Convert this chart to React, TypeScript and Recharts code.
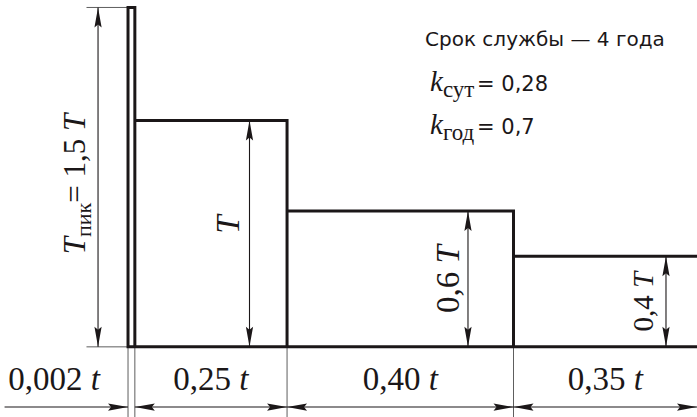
import React from 'react';
import { ComposedChart, Line, XAxis, YAxis, ReferenceLine, ReferenceDot } from 'recharts';

// Duty cycle: share of the cycle time and load level (in units of rated torque T)
const intervalShares = ['0,002', '0,25', '0,40', '0,35'];
const loadLevels = [1.5, 1, 0.6, 0.4];
const levelNames = ['1,5', '', '0,6', '0,4'];
// Interval boundaries on the schematic (not to scale) time axis, 0..100
const intervalEdges = [0, 1.2, 27.95, 67.75, 100];

const serviceLife = 'Срок службы — 4 года';
const kDaily = '0,28';
const kYearly = '0,7';

const ink = '#1b1718';
const thin = '#5e5e5e';
const serif = '"Liberation Serif", "Times New Roman", serif';
const sans = '"DejaVu Sans", Verdana, sans-serif';

// Closed outline of the load diagram: one rectangle per interval on the baseline
type Pt = { t: number; v: number | null };
const outline: Pt[] = [{ t: intervalEdges[0], v: 0 }];
loadLevels.forEach((lv, i) => {
  outline.push({ t: intervalEdges[i], v: lv });
  outline.push({ t: intervalEdges[i + 1], v: lv });
  if (i < loadLevels.length - 1) outline.push({ t: intervalEdges[i + 1], v: 0 });
});
outline.push({ t: intervalEdges[intervalEdges.length - 1], v: null });
outline.push({ t: intervalEdges[intervalEdges.length - 1], v: 0 });
outline.push({ t: intervalEdges[0], v: 0 });

const X_DOMAIN: [number, number] = [-22.5, 100];
const Y_DOMAIN: [number, number] = [-0.31, 1.533];
const DIM_ROW = -0.266;
const LABEL_ROW = -0.19;

// Dimension line with filled arrowheads at the chosen ends
const dimShape = (startArrow: boolean, endArrow: boolean) => (p: any) => {
  const { x1, y1, x2, y2 } = p;
  const dx = x2 - x1;
  const dy = y2 - y1;
  const len = Math.hypot(dx, dy) || 1;
  const ux = dx / len;
  const uy = dy / len;
  const L = 20;
  const W = 3.6;
  const head = (tx: number, ty: number, ax: number, ay: number) => {
    const bx = tx - ax * L;
    const by = ty - ay * L;
    const px = -ay * W;
    const py = ax * W;
    const mx = tx - ax * (L - 3);
    const my = ty - ay * (L - 3);
    return `M${tx},${ty} L${bx + px},${by + py} L${mx},${my} L${bx - px},${by - py} Z`;
  };
  return (
    <g>
      <line x1={x1} y1={y1} x2={x2} y2={y2} stroke={ink} strokeWidth={1.1} />
      {startArrow && <path d={head(x1, y1, -ux, -uy)} fill={ink} />}
      {endArrow && <path d={head(x2, y2, ux, uy)} fill={ink} />}
    </g>
  );
};

const rotated = (content: React.ReactNode, size: number) => (p: any) => (
  <text
    x={p.cx}
    y={p.cy}
    transform={`rotate(-90 ${p.cx} ${p.cy})`}
    textAnchor="middle"
    fontFamily={serif}
    fontSize={size}
    fill={ink}
  >
    {content}
  </text>
);

const shareLabel = (share: string) => (p: any) => (
  <text x={p.cx} y={p.cy} textAnchor="middle" fontFamily={serif} fontSize={33} fill={ink}>
    {share} <tspan fontStyle="italic">t</tspan>
  </text>
);

const plainText = (s: string) => (p: any) => (
  <text x={p.cx} y={p.cy} fontFamily={sans} fontSize={20} fill={ink}>
    {s}
  </text>
);

const coefText = (sub: string, value: string) => (p: any) => (
  <text x={p.cx} y={p.cy} fontFamily={serif} fontSize={29} fill={ink}>
    <tspan fontStyle="italic" fontFamily={serif}>k</tspan>
    <tspan fontSize={23} dy={6} fontFamily={serif}>{sub}</tspan>
    <tspan x={p.cx + 47} dy={-6} fontFamily={sans} fontSize={21}>= {value}</tspan>
  </text>
);

const labelMids = [-13, ...intervalEdges.slice(1, -1).map((e, i) => (e + intervalEdges[i + 2]) / 2)];

export default function App() {
  return (
    <div style={{ position: 'absolute', left: 0, top: 0, background: '#fff' }}>
      <ComposedChart width={697} height={417} data={outline} margin={{ top: 0, right: 0, bottom: 0, left: 0 }}>
        <XAxis type="number" dataKey="t" domain={X_DOMAIN} allowDataOverflow hide />
        <YAxis type="number" domain={Y_DOMAIN} allowDataOverflow hide />

        {/* extension lines */}
        <ReferenceLine segment={[{ x: -7.3, y: loadLevels[0] }, { x: 0, y: loadLevels[0] }]} stroke={thin} strokeWidth={1} />
        <ReferenceLine segment={[{ x: -7.3, y: 0 }, { x: 0, y: 0 }]} stroke={thin} strokeWidth={1} />
        {intervalEdges.slice(0, -1).map((e, i) => (
          <ReferenceLine key={`ext${i}`} segment={[{ x: e, y: 0 }, { x: e, y: Y_DOMAIN[0] }]} stroke={thin} strokeWidth={1} />
        ))}

        <Line
          dataKey="v"
          type="linear"
          stroke={ink}
          strokeWidth={3}
          strokeLinejoin="miter"
          strokeLinecap="square"
          dot={false}
          activeDot={false}
          isAnimationActive={false}
        />

        {/* level dimensions */}
        <ReferenceLine segment={[{ x: -5.27, y: 0 }, { x: -5.27, y: loadLevels[0] }]} shape={dimShape(true, true)} />
        <ReferenceLine segment={[{ x: 21.35, y: 0 }, { x: 21.35, y: loadLevels[1] }]} shape={dimShape(true, true)} />
        <ReferenceLine segment={[{ x: 59.75, y: 0 }, { x: 59.75, y: loadLevels[2] }]} shape={dimShape(true, true)} />
        <ReferenceLine segment={[{ x: 94.55, y: 0 }, { x: 94.55, y: loadLevels[3] }]} shape={dimShape(true, true)} />

        {/* interval dimensions */}
        <ReferenceLine segment={[{ x: -21.7, y: DIM_ROW }, { x: intervalEdges[0], y: DIM_ROW }]} shape={dimShape(false, true)} />
        {intervalEdges.slice(1, -1).map((e, i) => (
          <ReferenceLine
            key={`dim${i}`}
            segment={[{ x: e, y: DIM_ROW }, { x: intervalEdges[i + 2], y: DIM_ROW }]}
            shape={dimShape(true, true)}
          />
        ))}

        {intervalShares.map((s, i) => (
          <ReferenceDot key={`lbl${i}`} x={labelMids[i]} y={LABEL_ROW} r={0} shape={shareLabel(s)} />
        ))}

        <ReferenceDot
          x={-7.56}
          y={0.72}
          r={0}
          shape={rotated(
            <>
              <tspan fontStyle="italic">T</tspan>
              <tspan fontSize={22} dy={6}>пик</tspan>
              <tspan dy={-6}>= {levelNames[0]} </tspan>
              <tspan fontStyle="italic">T</tspan>
            </>,
            31
          )}
        />
        <ReferenceDot x={19.5} y={0.54} r={0} shape={rotated(<tspan fontStyle="italic">T</tspan>, 33)} />
        <ReferenceDot
          x={58.17}
          y={loadLevels[2] / 2}
          r={0}
          shape={rotated(<>{levelNames[2]} <tspan fontStyle="italic">T</tspan></>, 33)}
        />
        <ReferenceDot
          x={92.27}
          y={loadLevels[3] / 2}
          r={0}
          shape={rotated(<>{levelNames[3]} <tspan fontStyle="italic">T</tspan></>, 29)}
        />

        <ReferenceDot x={52.2} y={1.3297} r={0} shape={plainText(serviceLife)} />
        <ReferenceDot x={53.08} y={1.1308} r={0} shape={coefText('сут', kDaily)} />
        <ReferenceDot x={53.08} y={0.9408} r={0} shape={coefText('год', kYearly)} />
      </ComposedChart>
    </div>
  );
}
